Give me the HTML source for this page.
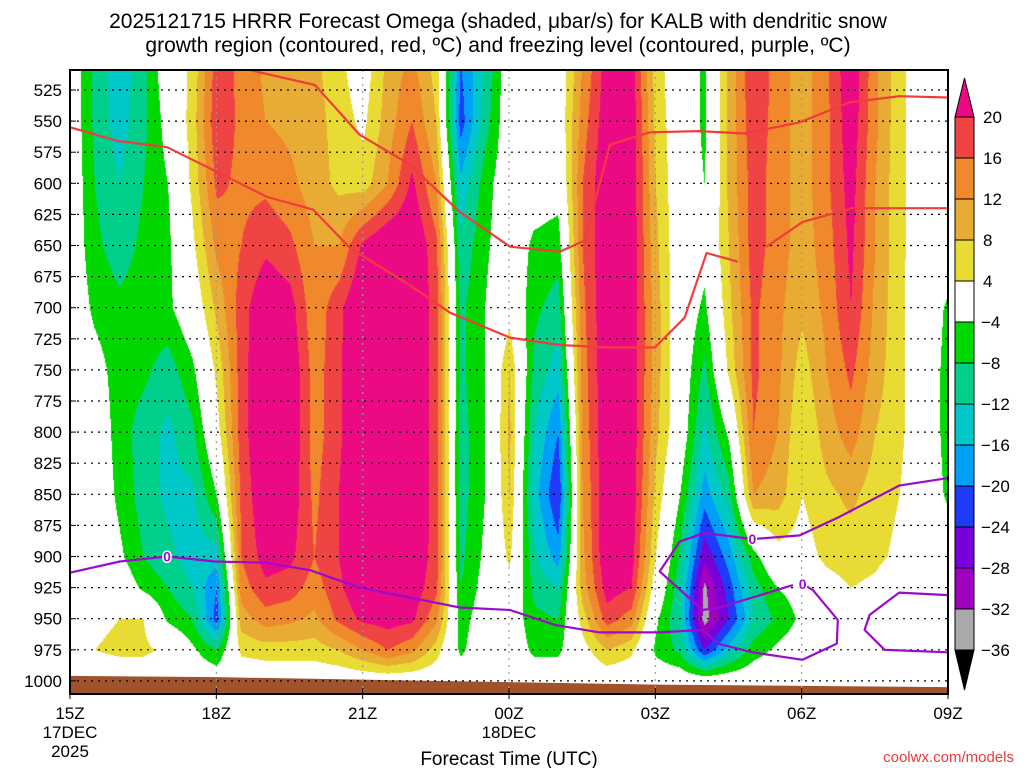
<!DOCTYPE html>
<html><head><meta charset="utf-8"><style>
html,body{margin:0;padding:0;background:#fff;width:1024px;height:768px;overflow:hidden}
#wrap{position:relative;width:1024px;height:768px;font-family:"Liberation Sans",sans-serif}
canvas,svg{position:absolute;left:0;top:0}
</style></head><body>
<div id="wrap">
<canvas id="field" width="1024" height="768"></canvas>
<svg id="ov" width="1024" height="768"></svg>
</div>
<script>
// ---- data ----
const hours = [0,0.5,1,1.5,2,2.5,3,3.5,4,4.5,5,5.5,6,6.5,7,7.5,8,8.5,9,9.5,10,10.5,11,11.5,12,12.5,13,13.5,14,14.5,15,15.5,16,16.5,17,17.5,18];
const levels = [500,550,600,650,700,750,800,850,900,925,950,975,1000];
const omega = [
[0,0,0,0,0,0,0,0,0,0,0,0,0],
[-9,-9,-8,-7,-5,-2,0,0,0,0,3,4,0],
[-15,-14,-12,-10,-7,-6,-6,-5,-3,0,4,5,0],
[-9,-9,-8,-7,-6,-7,-10,-10,-8,-5,4,5,0],
[0,-2,-4,-5,-5,-10,-13,-13,-11,-8,-5,3,0],
[5,6,5,3,0,-5,-9,-13,-14,-12,-8,-3,0],
[18,19,17,13,9,5,2,-4,-14,-20,-22,-8,0],
[15,15,15,16,18,18,18,17,16,14,10,5,0],
[11,12,15,19,24,25,25,24,22,19,14,6,0],
[10,11,13,17,22,24,24,23,21,18,13,6,0],
[9,10,10,12,13,14,14,15,16,14,11,6,0],
[5,6,7,12,19,19,19,20,20,19,17,8,0],
[1,3,6,21,25,26,26,26,25,24,21,12,0],
[9,10,12,25,27,27,27,26,25,24,22,16,0],
[13,16,21,25,25,25,25,25,24,23,21,13,0],
[6,8,12,17,18,18,18,18,18,17,13,6,0],
[-20,-22,-15,-11,-9,-9,-10,-10,-9,-8,-6,-5,0],
[-12,-10,-6,-5,-4,-4,-4,-4,-3,-2,-1,0,0],
[0,0,0,0,2,8,9,8,5,2,0,0,0],
[0,0,-1,-5,-7,-9,-12,-14,-11,-9,-7,-5,0],
[0,0,-2,-6,-10,-14,-20,-24,-18,-12,-8,-5,0],
[12,14,16,16,15,14,13,12,11,10,6,2,0],
[22,23,24,24,24,24,24,24,24,22,18,8,0],
[22,23,23,23,23,23,23,23,22,20,14,5,0],
[6,7,8,9,10,10,9,7,4,1,-3,-5,0],
[0,0,0,0,0,0,0,-4,-9,-11,-12,-9,0],
[-5,-5,-4,-2,-5,-9,-13,-18,-27,-33,-34,-24,0],
[9,9,9,8,7,5,-3,-10,-18,-22,-24,-14,0],
[20,19,18,18,17,17,16,12,-6,-10,-12,-6,0],
[14,14,14,14,13,13,12,10,2,-4,-7,-3,0],
[10,10,10,10,9,6,4,4,2,-2,-3,-1,0],
[15,15,15,14,13,12,10,7,5,2,0,0,0],
[24,23,22,21,20,17,14,9,6,4,0,0,0],
[13,13,12,12,11,10,8,6,5,3,0,0,0],
[5,5,5,5,5,5,5,4,3,0,0,0,0],
[1,1,1,1,0,0,0,0,0,0,0,0,0],
[0,0,0,0,-5,-6,-6,-5,0,0,0,0,0]
];
const groundHours = [0,3,6,9,12,15,18];
const groundP = [996,997,999,1001,1003,1004,1005];
const dgzUpperH = [3.69,5.02,5.94,6.97,7.99,9.02,10.04,10.55,11.07,11.89,12.91,13.83,14.96,15.98,17,18];
const dgzUpperP = [509,521,561,585,623,651,655,646,569,559,558,560,551,535,530,531];
const dgzLowerH = [0,0.98,1.99,3.28,4.04,4.98,5.74,6.97,7.79,9.02,10.04,11.07,11.99,12.6,13.05,13.69];
const dgzLowerP = [555,566,571,596,611,621,652,682,704,724,730,732,732,708,656,663];
const dgzLower2H = [14.28,15.02,16.04,18];
const dgzLower2P = [651,631,620,620];
const frz1H = [0,1.02,1.99,2.97,4,4.92,5.94,6.97,7.99,9.02,9.94,10.86,12.09,12.97,13.28,13.99,15.02,15.72,15.74,15.23,15.02];
const frz1P = [913,904,900,904,905,911,925,933,941,943,955,961,961,959,970,977,983,970,951,927,922];
const frz2H = [14.82,13.32,12.97,12.09,12.5,13.01,13.99,14.96,15.78,17,18];
const frz2P = [923,941,943,912,888,881,886,883,868,843,837];
const frz3H = [18,17,16.39,16.29,16.7,18];
const frz3P = [931,929,947,959,975,977];
const frzLabelH = [1.99,13.99,15.02];
const frzLabelP = [900,886,922];
const pTicks = [525,550,575,600,625,650,675,700,725,750,775,800,825,850,875,900,925,950,975,1000];
const tTicks = [0,3,6,9,12,15,18];
const tLabels = ["15Z","18Z","21Z","00Z","03Z","06Z","09Z"];
const cbLevels = [20,16,12,8,4,-4,-8,-12,-16,-20,-24,-28,-32,-36];
const cbColors = ["#ec0a84","#f04444","#f0882c","#e8ac34","#e8dc34","#ffffff","#00d800","#00d08c","#00c8c8","#00a0f8","#1e3cf8","#7800d8","#a000c0","#aaaaaa","#000000"];

// ---- scales ----
const X0=70,X1=948,Y0=70,Y1=694;
const xS = h => X0 + h*(X1-X0)/18;
const yS = p => 90 + (p-525)*1.244;
const hInv = x => (x-X0)*18/(X1-X0);
const pInv = y => 525 + (y-90)/1.244;

function colorFor(v){
  for(let i=0;i<cbLevels.length;i++){ if(v>cbLevels[i]) return cbColors[i]; }
  return cbColors[cbColors.length-1];
}
function interp(h,p){
  let i=Math.floor(h/0.5); if(i<0)i=0; if(i>hours.length-2)i=hours.length-2;
  const fx=(h-hours[i])/(hours[i+1]-hours[i]);
  let j=0; while(j<levels.length-2 && p>levels[j+1]) j++;
  let fy=(p-levels[j])/(levels[j+1]-levels[j]); fy=Math.max(0,Math.min(1,fy));
  const a=omega[i][j],b=omega[i+1][j],c=omega[i][j+1],d=omega[i+1][j+1];
  return a*(1-fx)*(1-fy)+b*fx*(1-fy)+c*(1-fx)*fy+d*fx*fy;
}
function hex(c){return [parseInt(c.substr(1,2),16),parseInt(c.substr(3,2),16),parseInt(c.substr(5,2),16)];}
const cv=document.getElementById('field');const ctx=cv.getContext('2d');
const img=ctx.createImageData(X1-X0,Y1-Y0);
for(let y=Y0;y<Y1;y++){for(let x=X0;x<X1;x++){
  const v=interp(hInv(x),pInv(y)); const c=hex(colorFor(v));
  const k=((y-Y0)*(X1-X0)+(x-X0))*4; img.data[k]=c[0];img.data[k+1]=c[1];img.data[k+2]=c[2];img.data[k+3]=255;}}
ctx.putImageData(img,X0,Y0);

// ---- overlay ----
const NS="http://www.w3.org/2000/svg";const svg=document.getElementById('ov');
function mk(t,a,parent){const e=document.createElementNS(NS,t);for(const k in a)e.setAttribute(k,a[k]);(parent||svg).appendChild(e);return e;}
let gd="M"+xS(0)+","+Y1;
groundHours.forEach((h,i)=>{gd+=" L"+xS(h)+","+yS(groundP[i]);});
gd+=" L"+xS(18)+","+Y1+" Z";
let g=mk('path',{d:gd,fill:'#a0522d'});


pTicks.forEach(p=>{let l=mk('line',{x1:X0,x2:X1,y1:yS(p),y2:yS(p),stroke:'#000','stroke-width':1.2,'stroke-dasharray':'2,5'});

});
tTicks.slice(1,-1).forEach(t=>{let l=mk('line',{x1:xS(t),x2:xS(t),y1:Y0,y2:Y1,stroke:'#999','stroke-width':1.2,'stroke-dasharray':'2,5'});

});
function line(H,P,color,w,name){let d=H.map((h,i)=>(i?"L":"M")+xS(h).toFixed(1)+","+yS(P[i]).toFixed(1)).join(" ");
let e=mk('path',{d:d,fill:'none',stroke:color,'stroke-width':w,'stroke-linejoin':'round'});

}
line(dgzUpperH,dgzUpperP,'#f03c3c',2.2,'dgz-upper-contour');
line(dgzLowerH,dgzLowerP,'#f03c3c',2.2,'dgz-lower-contour');
line(dgzLower2H,dgzLower2P,'#f03c3c',2.2,'dgz-lower-contour-2');
line(frz1H,frz1P,'#9a0ccc',2.2,'freezing-level-contour');
line(frz2H,frz2P,'#9a0ccc',2.2,'freezing-level-contour-2');
line(frz3H,frz3P,'#9a0ccc',2.2,'freezing-level-contour-3');
frzLabelH.forEach((h,i)=>{let t=mk('text',{x:xS(h),y:yS(frzLabelP[i])+5,'text-anchor':'middle','font-size':14,'font-weight':'bold',fill:'#9a0ccc',stroke:'#fff','stroke-width':3,'paint-order':'stroke'});t.textContent='0';

});
let fr=mk('rect',{x:X0,y:Y0,width:X1-X0,height:Y1-Y0,fill:'none',stroke:'#000','stroke-width':2});


pTicks.forEach(p=>{let t=mk('text',{x:62,y:yS(p)+6,'text-anchor':'end','font-size':17,fill:'#000'});t.textContent=p;


mk('line',{x1:X0,x2:X0+6,y1:yS(p),y2:yS(p),stroke:'#000'});});
tTicks.forEach((tt,i)=>{mk('line',{x1:xS(tt),x2:xS(tt),y1:Y1-6,y2:Y1+5,stroke:'#000'});
let t=mk('text',{x:xS(tt),y:719,'text-anchor':'middle','font-size':17,fill:'#000'});t.textContent=tLabels[i];

});
[["17DEC",xS(0),738],["2025",xS(0),757],["18DEC",xS(9),738]].forEach(a=>{let t=mk('text',{x:a[1],y:a[2],'text-anchor':'middle','font-size':17,fill:'#000'});t.textContent=a[0];

});
let xt=mk('text',{x:509,y:765,'text-anchor':'middle','font-size':19,fill:'#000'});xt.textContent='Forecast Time (UTC)';


let cr=mk('text',{x:1014,y:762,'text-anchor':'end','font-size':15,fill:'#e83c3c'});cr.textContent='coolwx.com/models';


["2025121715 HRRR Forecast Omega (shaded, \u03bcbar/s) for KALB with dendritic snow","growth region (contoured, red, \u00baC) and freezing level (contoured, purple, \u00baC)"].forEach((s,i)=>{
let t=mk('text',{x:498,y:28+i*24,'text-anchor':'middle','font-size':21,fill:'#000'});t.textContent=s;

});
const CBX=955,CBW=19,CBT=117,BH=41;
let tri=mk('path',{d:`M${CBX},${CBT} L${CBX+CBW/2},78 L${CBX+CBW},${CBT} Z`,fill:cbColors[0],stroke:'#000'});


for(let i=1;i<cbColors.length-1;i++){let r=mk('rect',{x:CBX,y:CBT+(i-1)*BH,width:CBW,height:BH,fill:cbColors[i],stroke:'#000'});

}
const cbBot=CBT+(cbColors.length-2)*BH;
let tri2=mk('path',{d:`M${CBX},${cbBot} L${CBX+CBW/2},690 L${CBX+CBW},${cbBot} Z`,fill:'#000',stroke:'#000'});


cbLevels.forEach((v,i)=>{let t=mk('text',{x:v<0?981:983,y:CBT+i*BH+6,'font-size':17,fill:'#000'});t.textContent=v<0?'\u2212'+(-v):v;

});
</script>
</body></html>
